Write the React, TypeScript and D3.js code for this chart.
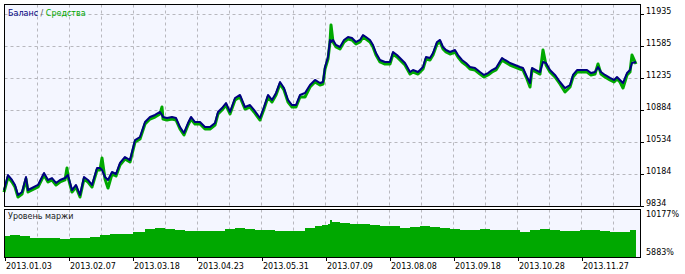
import React from "react";
import * as d3 from "d3";

// deal index, balance, equity
const deals = [0,4,8,11,14,18,22,24,28,34,40,44,48,52,56,61,63,64,68,72,76,80,84,88,93,96,98,101,104,108,112,116,121,126,131,136,141,146,151,156,158,159,163,168,172,176,180,184,187,191,196,201,206,211,214,218,222,226,231,236,241,246,250,256,260,264,268,272,276,280,284,288,292,296,301,306,311,316,319,321,324,326,327,329,332,336,340,344,348,352,356,359,362,366,369,372,376,381,386,389,393,396,401,406,409,414,419,422,426,429,433,436,439,442,446,451,454,458,462,466,471,476,480,484,488,492,498,501,506,511,516,519,523,526,528,532,536,539,542,546,551,556,561,566,569,573,578,583,587,591,594,597,601,606,610,613,616,619,623,626,628,632];
const balance = [10009,10173,10119,10064,9954,9987,10151,10009,10031,10064,10195,10119,10140,10086,10119,10140,10162,10173,10009,10064,9954,10151,10119,10064,10250,10250,10228,10151,10119,10206,10184,10305,10370,10337,10556,10589,10753,10808,10830,10863,10830,10808,10797,10808,10797,10698,10633,10742,10808,10753,10753,10698,10698,10742,10863,10906,10961,10863,11016,11049,10917,10939,10885,10797,10917,11049,10994,11071,11191,11125,10994,10939,10939,11049,11071,11158,11213,11180,11191,11355,11465,11651,11629,11651,11596,11574,11651,11683,11672,11629,11651,11705,11683,11651,11596,11508,11432,11410,11410,11519,11486,11454,11399,11300,11322,11300,11355,11465,11454,11508,11629,11651,11574,11541,11519,11541,11486,11432,11399,11355,11344,11300,11268,11289,11322,11344,11454,11432,11399,11377,11355,11344,11246,11180,11344,11322,11300,11410,11399,11322,11268,11191,11125,11158,11268,11322,11322,11322,11289,11300,11355,11300,11268,11235,11213,11246,11213,11180,11289,11322,11399,11410];
const equity = [9987,10151,10097,10042,9932,9965,10129,9987,10009,10042,10173,10097,10119,10064,10097,10119,10250,10151,9987,10042,9932,10129,10097,10042,10228,10228,10359,10129,10031,10184,10162,10283,10348,10315,10534,10567,10731,10786,10808,10841,10917,10786,10775,10786,10775,10677,10611,10720,10786,10731,10731,10677,10677,10720,10841,10885,10939,10841,10994,11027,10895,10917,10863,10775,10895,11027,10972,11049,11169,11103,10972,10917,10917,11027,11027,11136,11191,11158,11169,11333,11443,11629,11815,11629,11574,11552,11629,11661,11651,11607,11629,11683,11661,11629,11574,11486,11410,11388,11388,11497,11465,11432,11377,11278,11300,11278,11333,11443,11432,11486,11607,11629,11552,11519,11497,11519,11465,11410,11377,11333,11322,11278,11246,11268,11300,11322,11432,11410,11377,11355,11333,11322,11224,11136,11322,11300,11278,11541,11377,11300,11246,11169,11082,11136,11246,11300,11300,11300,11268,11278,11388,11278,11246,11213,11191,11224,11191,11125,11268,11300,11486,11388];

// margin level, %
const marginDeals = [1,6,16,26,36,46,56,66,76,86,96,106,116,129,141,151,161,171,181,191,201,211,221,231,241,251,261,271,281,291,301,311,318,324,326,328,336,346,356,366,376,386,396,406,416,426,436,446,456,466,476,486,496,506,516,526,536,546,556,566,576,586,596,606,616,626,632];
const marginLevel = [7781,7872,7781,7601,7601,7601,7510,7601,7601,7691,7872,7962,7962,8143,8414,8505,8414,8324,8233,8233,8233,8233,8414,8505,8414,8324,8324,8233,8233,8233,8505,8685,8776,8866,9228,9047,8957,8866,8866,8776,8685,8685,8505,8595,8685,8595,8505,8414,8324,8324,8414,8324,8324,8324,8143,8324,8414,8324,8233,8233,8324,8324,8233,8143,8143,8324,8324];

const yTicks = [11935, 11585, 11235, 10884, 10534, 10184, 9834];
const marginTicks = [10177, 5883];
const dateLabels = ["2013.01.03","2013.02.07","2013.03.18","2013.04.23","2013.05.31","2013.07.09","2013.08.08","2013.09.18","2013.10.28","2013.11.27"];
const dateDeals = [1,65,129,193,258,322,386,450,514,578];
const gridDeals = d3.range(33, 620, 32);

const FONT = "DejaVu Sans, sans-serif";
const BG = "#F4F6FF";
const GRID = "#B8B8BE";
const NAVY = "#000080";
const GREEN = "#00A800";

export default function App() {
  const x = d3.scaleLinear().domain([0, 637]).range([4, 641]);
  const y = d3.scaleLinear().domain([9834, 11935]).range([206, 14]);
  const ym = d3.scaleLinear().domain([5883, 10177]).range([257, 209.5]);

  const balLine = d3.line<number>().x((_, i) => x(deals[i])).y((d) => y(d));
  const eqLine = d3.line<number>().x((_, i) => x(deals[i])).y((d) => y(d));
  const mArea = d3
    .area<number>()
    .x((_, i) => x(marginDeals[i]))
    .y0(257)
    .y1((d) => ym(d))
    .curve(d3.curveStepAfter);

  const top = { x0: 4.5, x1: 640.5, y0: 4.5, y1: 206.5 };
  const bot = { x0: 4.5, x1: 640.5, y0: 209.5, y1: 257.5 };

  return (
    <svg width={685} height={274} style={{ position: "absolute", left: 0, top: 0, background: "#fff" }} fontFamily={FONT} fontSize={8}>
      <rect x={top.x0} y={top.y0} width={top.x1 - top.x0} height={top.y1 - top.y0} fill={BG} />
      <rect x={bot.x0} y={bot.y0} width={bot.x1 - bot.x0} height={bot.y1 - bot.y0} fill={BG} />
      {/* grid */}
      {gridDeals.map((g) => (
        <g key={g}>
          <line x1={Math.round(x(g)) + 0.5} x2={Math.round(x(g)) + 0.5} y1={top.y0} y2={top.y1} stroke={GRID} strokeDasharray="3,3" />
          <line x1={Math.round(x(g)) + 0.5} x2={Math.round(x(g)) + 0.5} y1={bot.y0} y2={bot.y1} stroke={GRID} strokeDasharray="3,3" />
        </g>
      ))}
      {yTicks.slice(0, -1).map((t) => (
        <line key={t} x1={top.x0} x2={top.x1} y1={Math.round(y(t)) + 0.5} y2={Math.round(y(t)) + 0.5} stroke={GRID} strokeDasharray="3,3" />
      ))}
      {/* margin */}
      <path d={mArea(marginLevel) || ""} fill={GREEN} />
      {/* equity and balance */}
      <path d={eqLine(equity) || ""} fill="none" stroke={GREEN} strokeWidth={3} strokeLinejoin="round" />
      <path d={balLine(balance) || ""} fill="none" stroke={NAVY} strokeWidth={2} strokeLinejoin="round" />
      {/* borders */}
      <rect x={top.x0} y={top.y0} width={top.x1 - top.x0} height={top.y1 - top.y0} fill="none" stroke="#000" />
      <rect x={bot.x0} y={bot.y0} width={bot.x1 - bot.x0} height={bot.y1 - bot.y0} fill="none" stroke="#000" />
      {/* right axis */}
      {yTicks.map((t) => (
        <g key={t}>
          <line x1={641} x2={644} y1={Math.round(y(t)) + 0.5} y2={Math.round(y(t)) + 0.5} stroke="#000" />
          <text x={646} y={Math.round(y(t))} fill="#000">{t}</text>
        </g>
      ))}
      <text x={646} y={ym(marginTicks[0]) + 7.5} fill="#000">{marginTicks[0]}%</text>
      <text x={646} y={ym(marginTicks[1]) - 2} fill="#000">{marginTicks[1]}%</text>
      {/* dates */}
      {dateDeals.map((d, i) => (
        <g key={d}>
          <line x1={Math.round(x(d)) + 0.5} x2={Math.round(x(d)) + 0.5} y1={257} y2={261} stroke="#000" />
          <text x={x(d) + 1} y={269} fill="#000">{dateLabels[i]}</text>
        </g>
      ))}
      {/* titles */}
      <text x={8} y={16}>
        <tspan fill={NAVY}>Баланс</tspan>
        <tspan fill="#555"> / </tspan>
        <tspan fill={GREEN}>Средства</tspan>
      </text>
      <text x={8} y={219} fill="#222">Уровень маржи</text>
    </svg>
  );
}
